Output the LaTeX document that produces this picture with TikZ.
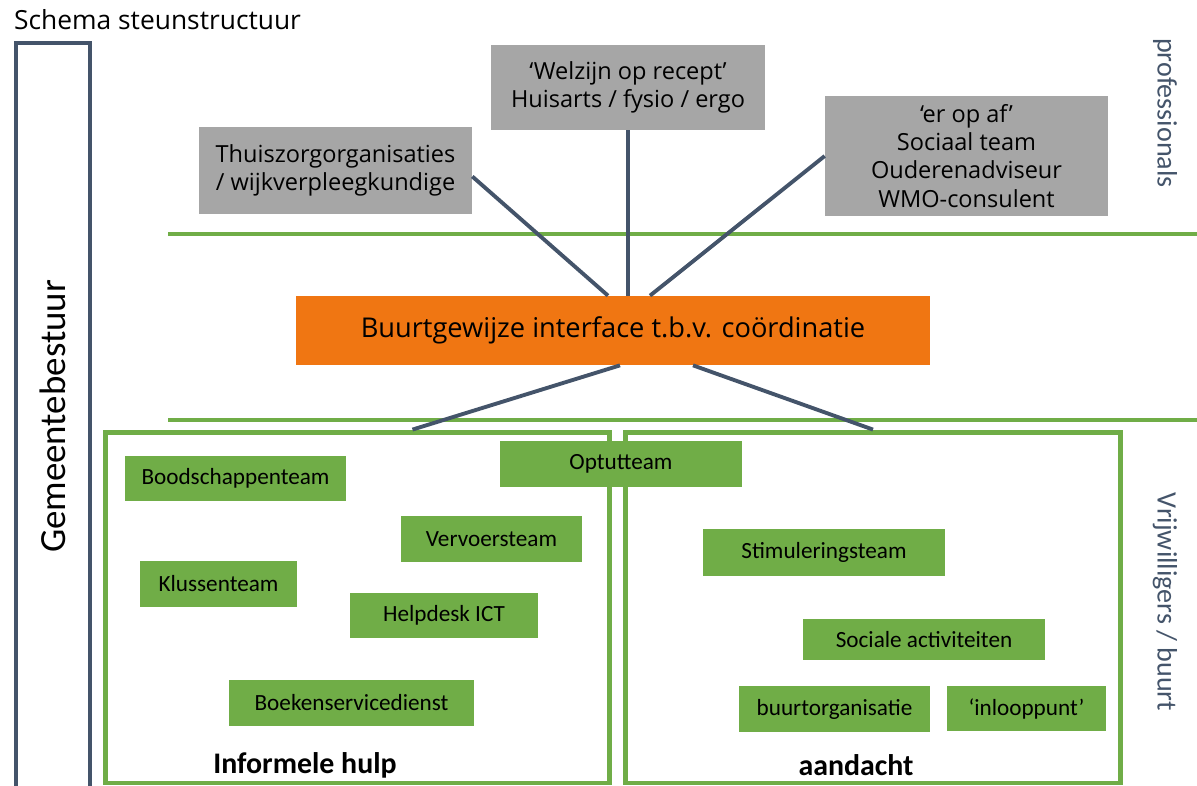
\documentclass[tikz,border=0pt]{standalone}
\usepackage{fontspec}
\setmainfont{Carlito}
\newfontfamily\segoe{Open Sans}
\usepackage{tikz}
\usetikzlibrary{positioning,calc}
\definecolor{leisteen}{RGB}{68,84,106}
\definecolor{grijsvlak}{RGB}{166,166,166}
\definecolor{oranje}{RGB}{240,118,18}
\definecolor{groen}{RGB}{112,173,71}

\begin{document}
\begin{tikzpicture}[x=0.02cm, y=-0.02cm,
    grijs/.style={rectangle, fill=grijsvlak, align=center, inner sep=0pt,
        font=\segoe\fontsize{13.4}{16}\selectfont},
    team/.style={rectangle, fill=groen, inner sep=0pt, minimum height=0.92cm,
        font=\fontsize{13.2}{15}\selectfont},
    kader/.style={rectangle, draw=groen, line width=2.8pt, inner sep=0pt,
        minimum height=7.02cm},
    lijn/.style={draw=leisteen, line width=2.2pt},
    scheiding/.style={draw=groen, line width=2.3pt},
    zijtekst/.style={text=leisteen, rotate=-90, font=\fontsize{16}{18}\selectfont}]
    \useasboundingbox (0,0) rectangle (1197,785);
    \path node (titel) at (8,20) [anchor=west, font=\segoe\fontsize{15}{18}\selectfont] {Schema steunstructuur};
    \path
        node (gemeente) at (53,416.5) [draw=leisteen, line width=2.6pt, rotate=90, inner sep=0pt,
            minimum width=14.94cm, minimum height=1.48cm, font=\fontsize{21}{24}\selectfont] {Gemeentebestuur}
        node (prof) at (1165,113) [zijtekst] {professionals}
        node (vrijw) at (1165,602) [zijtekst] {Vrijwilligers / buurt};
    % scheidingslijnen
    \draw[scheiding] (168,234) -- (1197,234);
    \draw[scheiding] (168,420) -- (1197,420);
    % professionals
    \path
        node (thuis) at (335.5,170.5) [grijs, minimum width=5.46cm, minimum height=1.74cm]
            {Thuiszorgorganisaties\\ / wijkverpleegkundige}
        node (welzijn) at (628,87.5) [grijs, minimum width=5.48cm, minimum height=1.70cm]
            {‘Welzijn op recept’\\ Huisarts / fysio / ergo}
        node (eropaf) at (966.5,156) [grijs, minimum width=5.66cm, minimum height=2.40cm]
            {‘er op af’\\ Sociaal team\\ Ouderenadviseur\\ WMO-consulent};
    \path node (buurt) at (613,330.5) [rectangle, fill=oranje, inner sep=0pt,
        minimum width=12.68cm, minimum height=1.38cm, font=\segoe\fontsize{15.5}{18}\selectfont]
        {Buurtgewijze interface t.b.v. co\"ordinatie};
    % vrijwilligers
    \path
        node (links) at (357.5,607.5) [kader, minimum width=10.1cm] {}
        node (rechts) at (873,607.5) [kader, minimum width=9.9cm] {};
    \path
        node (optut) at (621,464) [team, minimum width=4.84cm] {Optutteam}
        node (boodschap) at (235.5,478.5) [team, minimum width=4.42cm, minimum height=0.9cm] {Boodschappenteam}
        node (vervoer) at (491.5,539) [team, minimum width=3.62cm] {Vervoersteam}
        node (klussen) at (218.5,584) [team, minimum width=3.14cm] {Klussenteam}
        node (helpdesk) at (444,615.5) [team, minimum width=3.76cm, minimum height=0.9cm] {Helpdesk ICT}
        node (boeken) at (351.5,703) [team, minimum width=4.9cm] {Boekenservicedienst}
        node (stimul) at (824,552.5) [team, minimum width=4.84cm, minimum height=0.94cm] {Stimuleringsteam}
        node (sociaal) at (924,639.5) [team, minimum width=4.84cm, minimum height=0.82cm] {Sociale activiteiten}
        node (buurtorg) at (834.5,709) [team, minimum width=3.82cm] {buurtorganisatie}
        node (inloop) at (1026.5,708.5) [team, minimum width=3.18cm, minimum height=0.9cm] {‘inlooppunt’};
    \path
        node (informeel) at (305,765) [font=\bfseries\fontsize{17}{20}\selectfont] {Informele hulp}
        node (aandacht) at (856,765) [font=\bfseries\fontsize{17}{20}\selectfont] {aandacht};
    % verbindingen
    \draw[lijn] (thuis.east) ++(0,6) -- ($(buurt.north)+(-5,0)$);
    \draw[lijn] (welzijn.south) -- ($(buurt.north)+(15,0)$);
    \draw[lijn] (eropaf.west) -- ($(buurt.north)+(37,0)$);
    \draw[lijn] ($(buurt.south)+(7,0)$) -- ($(links.north)+(55,0)$);
    \draw[lijn] ($(buurt.south)+(80,0)$) -- (rechts.north);
\end{tikzpicture}
\end{document}
